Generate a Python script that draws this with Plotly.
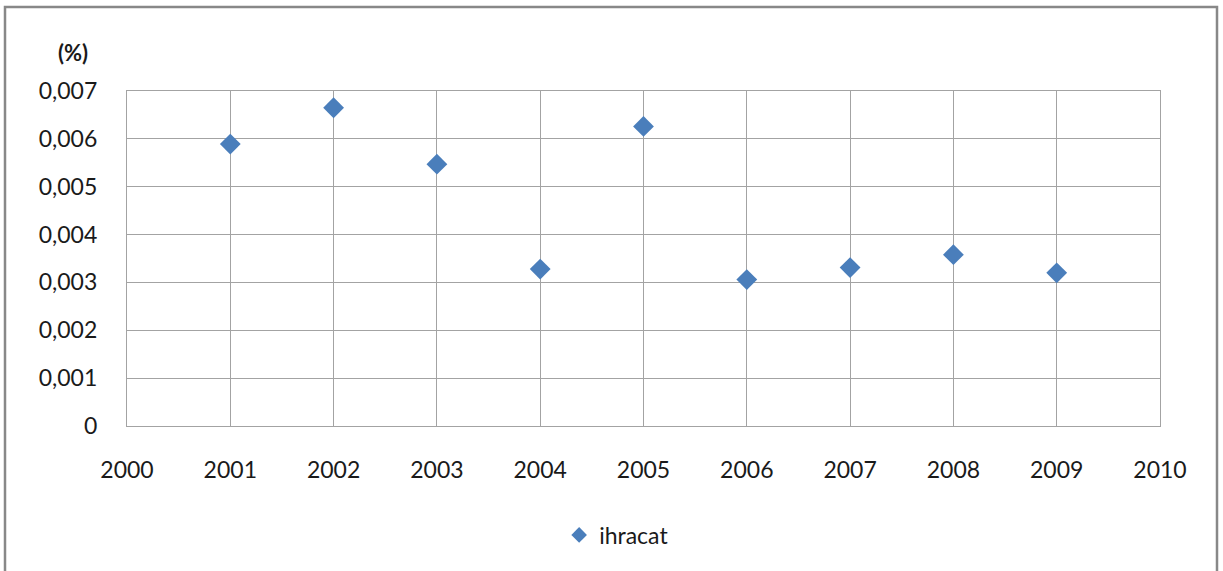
import plotly.graph_objects as go

years = [2001, 2002, 2003, 2004, 2005, 2006, 2007, 2008, 2009]
ihracat = [0.00589, 0.00665, 0.00547, 0.00328, 0.00626, 0.00306, 0.00331, 0.00358, 0.00320]
y_ticks = [0, 0.001, 0.002, 0.003, 0.004, 0.005, 0.006, 0.007]
y_labels = ["0", "0,001", "0,002", "0,003", "0,004", "0,005", "0,006", "0,007"]
x_ticks = list(range(2000, 2011))

FONT = "Lato, Open Sans, sans-serif"
GRID = "#a3a3a3"

fig = go.Figure()
fig.add_trace(go.Scatter(
    x=years, y=ihracat, mode="markers", name="ihracat",
    marker=dict(symbol="diamond", size=16, color="#4a7ebb"),
))

fig.update_layout(
    width=1223, height=571,
    margin=dict(l=127, r=63, t=91, b=145),
    paper_bgcolor="white", plot_bgcolor="white",
    font=dict(family=FONT, size=23, color="#1a1a1a"),
    showlegend=True,
    legend=dict(orientation="h", x=0.474, xanchor="center", y=-0.261, yanchor="top",
                font=dict(size=23, family=FONT), itemsizing="constant"),
    xaxis=dict(range=[2000, 2010], tickvals=x_ticks, showgrid=True, gridcolor=GRID,
               gridwidth=1.3, showline=True, linecolor=GRID, linewidth=1.3, mirror=True,
               zeroline=False, ticks="", ticklabelstandoff=23),
    yaxis=dict(range=[0, 0.007], tickvals=y_ticks, ticktext=y_labels, showgrid=True,
               gridcolor=GRID, gridwidth=1.3, showline=True, linecolor=GRID, linewidth=1.3,
               mirror=True, zeroline=False, ticks="", ticklabelstandoff=24),
    shapes=[dict(type="rect", xref="paper", yref="paper",
                 x0=-122/1033, x1=1 + 57/1033, y0=-160/335, y1=1 + 84/335,
                 line=dict(color="#888888", width=2.5))],
    annotations=[dict(text="<b>(%)</b>", xref="paper", yref="paper",
                      x=-54/1033, y=1 + 39/335, xanchor="center", yanchor="middle",
                      showarrow=False, font=dict(size=22, family=FONT))],
)

fig.write_html("out.html", config={"displayModeBar": False},
               post_script="document.body.style.margin='0';document.body.style.overflow='hidden';")
